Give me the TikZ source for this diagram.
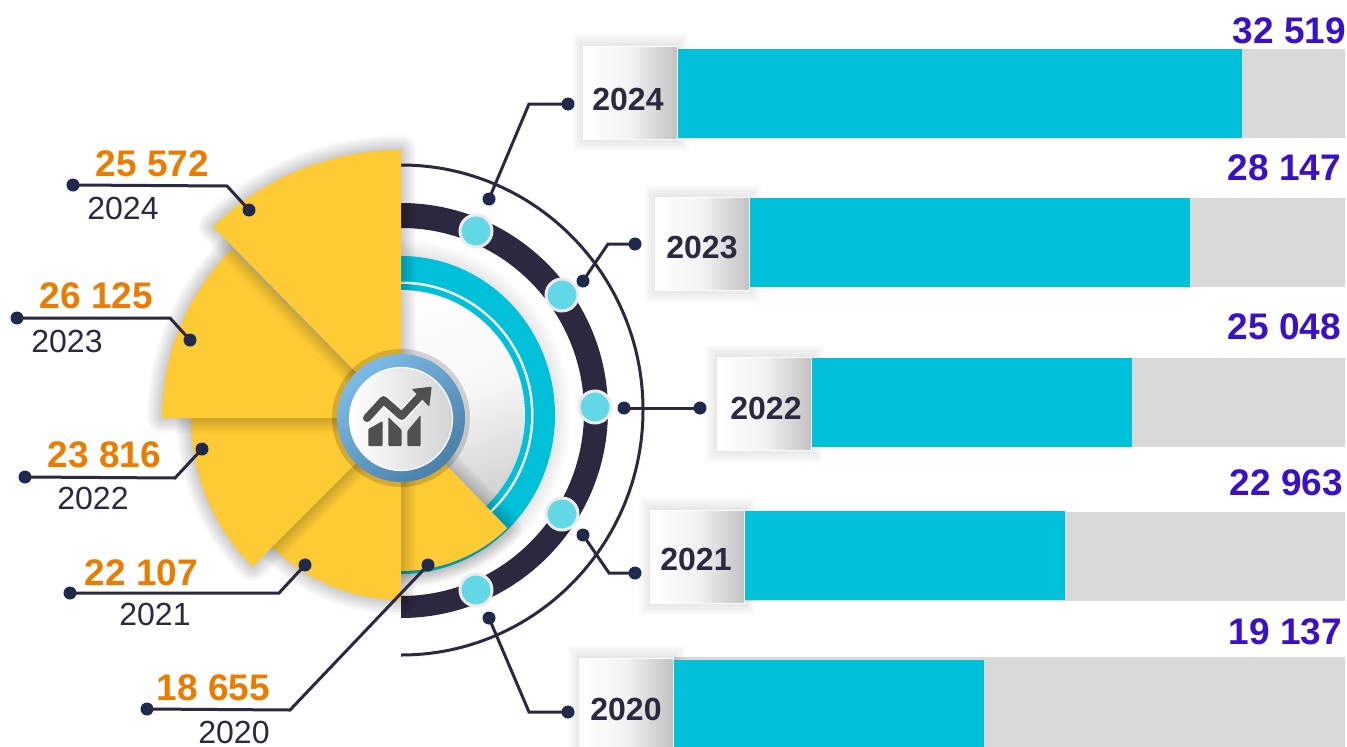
\documentclass[tikz,border=0pt]{standalone}
\usepackage{fontspec}
\setmainfont{Liberation Sans}
\usetikzlibrary{calc}
\definecolor{ink}{HTML}{2B2840}
\definecolor{dotc}{HTML}{1B2A4E}
\definecolor{gold}{HTML}{FFCB35}
\definecolor{teal}{HTML}{00C0DA}
\definecolor{barbg}{HTML}{D9D9D9}
\definecolor{violet}{HTML}{3A10C8}
\definecolor{amber}{HTML}{EC7C00}
\definecolor{aqua}{HTML}{62D8E6}
\definecolor{iconc}{HTML}{505050}
\definecolor{bluea}{HTML}{7DBBE6}
\definecolor{blueb}{HTML}{4A80AA}
\tikzset{
  dotn/.style={circle,fill=dotc,minimum size=13pt,inner sep=0pt},
  conn/.style={draw=ink,line width=3pt,line join=miter},
  val/.style={text=amber,font=\bfseries\fontsize{37}{37}\selectfont,inner sep=0pt},
  yr/.style={text=ink,font=\fontsize{32}{32}\selectfont,inner sep=0pt},
  tot/.style={text=violet,font=\bfseries\fontsize{37}{37}\selectfont,inner sep=0pt},
  yearbox/.style={draw=white,line width=1pt,left color=white,right color=black!24,middle color=black!5,
    minimum width=94pt,minimum height=93pt,inner sep=0pt},
  yeartext/.style={text=ink,font=\bfseries\fontsize{32}{32}\selectfont,inner sep=0pt},
  knob/.style={circle,draw=white!92!black,line width=3pt,fill=aqua,minimum size=32pt,inner sep=0pt},
}
% slice: radius, start angle, end angle
\newcommand{\yslice}[3]{%
  \foreach \w in {3,6,...,30}{%
    \path[draw=black,draw opacity=0.02,line width=\w pt,line join=round]
      (401,-418) -- ++(#2:#1pt) arc[start angle=#2,end angle=#3,radius=#1pt] -- cycle;}
  \fill[gold] (401,-418) -- ++(#2:#1pt) arc[start angle=#2,end angle=#3,radius=#1pt] -- cycle;
}
% bar: left x, top y, bottom y, cyan end x, cyan top y, cyan bottom y
\newcommand{\ybar}[6]{%
  \fill[barbg] (#1,-#2) rectangle (1345,-#3);
  \fill[teal] (#1,-#5) rectangle (#4,-#6);
}
% soft halo round a year box
\newcommand{\yhalo}[4]{%
  \foreach \w in {4,8,...,24}{%
    \path[draw=black,draw opacity=0.014,line width=\w pt,fill=none] (#1,-#2) rectangle (#3,-#4);}
}
\begin{document}
\begin{tikzpicture}[x=1pt,y=1pt]
\path[use as bounding box,clip] (0,0) rectangle (1347,-747);
\fill[white] (0,0) rectangle (1347,-747);

% bars on the right
\ybar{678}{49}{138}{1242}{49}{138}
\ybar{750}{198}{287}{1190}{198}{287}
\ybar{812}{358}{447}{1132}{358}{447}
\ybar{745}{512}{601}{1065}{511}{600}
\ybar{674}{657}{747}{984}{660}{747}

% year boxes
\yhalo{584}{46}{677}{139}
\yhalo{656}{197}{749}{290}
\yhalo{718}{357}{811}{450}
\yhalo{651}{510}{744}{603}
\yhalo{580}{658}{673}{751}
\fill[teal] (678,-49) rectangle (700,-138);
\fill[teal] (750,-198) rectangle (770,-287);
\fill[teal] (812,-358) rectangle (830,-447);
\fill[teal] (745,-511) rectangle (765,-600);
\fill[teal] (674,-660) rectangle (700,-747);
\node[yearbox] (b24) at (630.5,-92.5) {};
\node[yearbox] (b23) at (702.5,-243.5) {};
\node[yearbox] (b22) at (764.5,-403.5) {};
\node[yearbox] (b21) at (697.5,-556.5) {};
\node[yearbox] (b20) at (626.5,-704.5) {};
\node[yeartext] (t24) at (628,-99) {2024};
\node[yeartext] (t23) at (702,-248) {2023};
\node[yeartext] (t22) at (766,-408) {2022};
\node[yeartext] (t21) at (696,-559) {2021};
\node[yeartext] (t20) at (626,-709) {2020};

% totals
\node[tot,anchor=east] (v24) at (1346,-31) {32 519};
\node[tot,anchor=east] (v23) at (1341,-168) {28 147};
\node[tot,anchor=east] (v22) at (1341,-327) {25 048};
\node[tot,anchor=east] (v21) at (1343,-483) {22 963};
\node[tot,anchor=east] (v20) at (1342,-632) {19 137};

% rings
\draw[ink,line width=3pt] (401,-165) arc[start angle=90,end angle=-90,x radius=242pt,y radius=245pt];
\fill[ink] (401,-203) arc[start angle=90,end angle=-90,x radius=207pt,y radius=207.5pt]
  -- (401,-596) arc[start angle=-90,end angle=90,x radius=183pt,y radius=184pt] -- cycle;

% soft shadow round the teal ring
\begin{scope}
\clip (401,-200) rectangle (600,-620);
\foreach \w in {4,8,...,32}{%
  \path[draw=black,draw opacity=0.012,line width=\w pt] (401,-415) ellipse[x radius=154pt,y radius=159pt];}
\end{scope}
% teal ring and inner disc
\begin{scope}
\clip (401,-240) rectangle (600,-590);
\fill[teal] (401,-415) ellipse[x radius=154pt,y radius=159pt];
\fill[white] (401,-415) ellipse[x radius=132.5pt,y radius=133.5pt];
\fill[teal] (401,-415) ellipse[x radius=130pt,y radius=131pt];
\shade[top color=white,bottom color=black!20,middle color=black!3,shading angle=20]
  (401,-415) ellipse[x radius=124pt,y radius=125pt];
\end{scope}

% knobs on the dark ring
\node[knob] (k24) at (476,-231) {};
\node[knob] (k23) at (562,-295) {};
\node[knob] (k22) at (595,-407) {};
\node[knob] (k21) at (562,-514) {};
\node[knob] (k20) at (476,-590) {};

% slices
\yslice{153}{270}{314}
\yslice{182}{225}{270}
\yslice{210}{180}{225}
\yslice{239}{135}{180}
\yslice{268}{90}{134.5}

% hub
\fill[black,opacity=0.16] (401,-418) circle[radius=69pt];
\shade[left color=bluea,right color=blueb,shading angle=40] (401,-418) circle[radius=64pt];
\shade[left color=white,right color=black!17,draw=white,line width=1.2pt] (401,-419) circle[radius=51.5pt];

% chart icon
\fill[iconc,rounded corners=1pt] (368.3,-429) -- (382.7,-421) -- (382.7,-446) -- (368.3,-446) -- cycle;
\fill[iconc,rounded corners=1pt] (388.3,-417) -- (401.7,-430) -- (401.7,-446) -- (388.3,-446) -- cycle;
\fill[iconc,rounded corners=1pt] (407.3,-431) -- (420.7,-415) -- (420.7,-446) -- (407.3,-446) -- cycle;
\draw[white,line width=11pt,line join=round,line cap=round] (367,-418) -- (383.5,-400) -- (401.7,-416) -- (423,-393);
\draw[iconc,line width=8pt,line join=round,line cap=round] (367,-418) -- (383.5,-400) -- (401.7,-416) -- (423,-393);
\fill[iconc,rounded corners=1pt] (411.7,-389) -- (431.7,-386.7) -- (429.3,-406.7) -- cycle;

% left labels
\node[val] (n24) at (152.5,-164) {25 572};
\node[val] (n23) at (96.5,-296) {26 125};
\node[val] (n22) at (104.5,-455) {23 816};
\node[val] (n21) at (141.5,-573) {22 107};
\node[val] (n20) at (213.5,-688) {18 655};
\node[yr] (y24) at (123,-208) {2024};
\node[yr] (y23) at (67,-341) {2023};
\node[yr] (y22) at (93,-498) {2022};
\node[yr] (y21) at (155,-614) {2021};
\node[yr] (y20) at (234,-732) {2020};

% left connectors
\node[dotn] (la24) at (73,-185) {};   \node[dotn] (lb24) at (249,-210) {};
\node[dotn] (la23) at (17,-318) {};   \node[dotn] (lb23) at (190,-340) {};
\node[dotn] (la22) at (25,-477) {};   \node[dotn] (lb22) at (202,-449) {};
\node[dotn] (la21) at (70,-593) {};   \node[dotn] (lb21) at (305,-565) {};
\node[dotn] (la20) at (147,-709) {};  \node[dotn] (lb20) at (428,-565) {};
\coordinate (lk24) at (227,-186);
\coordinate (lk23) at (170,-318);
\coordinate (lk22) at (175,-478);
\coordinate (lk21) at (279,-593);
\coordinate (lk20) at (290,-710);
\draw[conn] (la24.center) -- (lk24) -- (lb24.center);
\draw[conn] (la23.center) -- (lk23) -- (lb23.center);
\draw[conn] (la22.center) -- (lk22) -- (lb22.center);
\draw[conn] (la21.center) -- (lk21) -- (lb21.center);
\draw[conn] (la20.center) -- (lk20) -- (lb20.center);

% right connectors
\node[dotn] (ra24) at (568,-104) {};  \node[dotn] (rb24) at (489,-199) {};
\node[dotn] (ra23) at (635,-244) {};  \node[dotn] (rb23) at (583,-281) {};
\node[dotn] (ra22) at (700,-408) {};  \node[dotn] (rb22) at (624,-408) {};
\node[dotn] (ra21) at (635,-573) {};  \node[dotn] (rb21) at (583,-535) {};
\node[dotn] (ra20) at (568,-712) {};  \node[dotn] (rb20) at (489,-618) {};
\coordinate (rk24) at (529,-104);
\coordinate (rk23) at (608,-244);
\coordinate (rk21) at (609,-573);
\coordinate (rk20) at (529,-712);
\draw[conn] (ra24.center) -- (rk24) -- (rb24.center);
\draw[conn] (ra23.center) -- (rk23) -- (rb23.center);
\draw[conn] (ra22.center) -- (rb22.center);
\draw[conn] (ra21.center) -- (rk21) -- (rb21.center);
\draw[conn] (ra20.center) -- (rk20) -- (rb20.center);
\end{tikzpicture}
\end{document}
